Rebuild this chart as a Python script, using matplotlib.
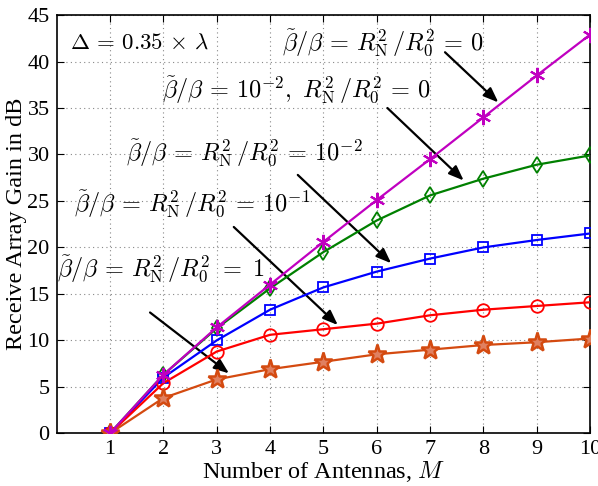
import matplotlib
matplotlib.use("Agg")
import matplotlib.pyplot as plt

plt.rcParams['font.family'] = ['Liberation Serif', 'DejaVu Serif']
plt.rcParams['mathtext.fontset'] = 'cm'

M = [1, 2, 3, 4, 5, 6, 7, 8, 9, 10]
gain_ideal = [0, 6.3, 11.4, 16.0, 20.6, 25.1, 29.5, 34.0, 38.5, 42.9]
gain_b1e2_r0 = [0, 6.3, 11.3, 15.6, 19.5, 22.9, 25.6, 27.4, 28.9, 29.9]
gain_1e2 = [0, 6.0, 10.0, 13.3, 15.7, 17.4, 18.8, 20.0, 20.8, 21.5]
gain_1e1 = [0, 5.4, 8.8, 10.6, 11.2, 11.8, 12.7, 13.3, 13.7, 14.1]
gain_1 = [0, 3.8, 5.8, 6.9, 7.7, 8.5, 9.0, 9.5, 9.8, 10.2]

xticks = [1, 2, 3, 4, 5, 6, 7, 8, 9, 10]
yticks = [0, 5, 10, 15, 20, 25, 30, 35, 40, 45]

fig = plt.figure(figsize=(5.98, 4.86), dpi=100)
ax = fig.add_axes([0.0948, 0.1084, 0.892, 0.8606])

ax.plot(M, gain_ideal, color='#c000c0', marker=(6, 2, 0), ms=11, mew=1.5, lw=1.6, zorder=5)
ax.plot(M, gain_b1e2_r0, color='#008000', marker='d', ms=8, mfc='none', mew=1.3, lw=1.6, zorder=4)
ax.plot(M, gain_1e2, color='#0000ff', marker='s', ms=7, mfc='none', mew=1.3, lw=1.6, zorder=4)
ax.plot(M, gain_1e1, color='#ff0000', marker='o', ms=9, mfc='none', mew=1.3, lw=1.6, zorder=4)
ax.plot(M, gain_1, color='#d44a10', marker='*', ms=14, mfc='#e08060', mew=1.8, lw=1.6, zorder=4)

ax.set_xlim(0, 10)
ax.set_ylim(0, 45)
ax.set_xticks(xticks)
ax.set_yticks(yticks)
ax.tick_params(direction='in', labelsize=16, length=5, top=True, right=True, pad=5)
ax.grid(True, linestyle=(0, (1, 3)), color='#888888', lw=0.8)
for s in ax.spines.values():
    s.set_linewidth(1.2)

ax.set_xlabel('Number of Antennas, $M$', fontsize=17.5, labelpad=0)
ax.set_ylabel('Receive Array Gain in dB', fontsize=17.5, labelpad=0)

fs = 17.5
eq = r'\,=\,'
rr = r'R_{\mathrm{N}}^2\,/R_0^2'
ax.text(0.25, 42, r'$\Delta' + eq + r'0.35\,\times\,\lambda$', fontsize=16.5, va='center', ha='left')
ax.text(4.22, 42, r'$\tilde{\beta}/\beta' + eq + rr + eq + r'0$', fontsize=fs, va='center', ha='left')
ax.text(1.98, 36.9, r'$\tilde{\beta}/\beta' + eq + r'10^{-2},\ ' + rr + eq + r'0$', fontsize=fs, va='center', ha='left')
ax.text(1.30, 30.1, r'$\tilde{\beta}/\beta' + eq + rr + eq + r'10^{-2}$', fontsize=fs, va='center', ha='left')
ax.text(0.33, 24.6, r'$\tilde{\beta}/\beta' + eq + rr + eq + r'10^{-1}$', fontsize=fs, va='center', ha='left')
ax.text(0.0, 17.6, r'$\tilde{\beta}/\beta' + eq + rr + r'\ =\ 1$', fontsize=fs, va='center', ha='left')

arrows = [((7.28, 41.0), (8.28, 35.6)),
          ((6.2, 35.0), (7.63, 27.2)),
          ((4.52, 27.8), (6.27, 18.3)),
          ((3.32, 22.2), (5.27, 11.65)),
          ((1.75, 13.0), (3.23, 6.45))]
for tail, head in arrows:
    ax.annotate('', xy=head, xytext=tail,
                arrowprops=dict(arrowstyle='-|>,head_length=0.9,head_width=0.35',
                                color='black', lw=1.6, shrinkA=0, shrinkB=0))

fig.savefig('out.png', dpi=100)
